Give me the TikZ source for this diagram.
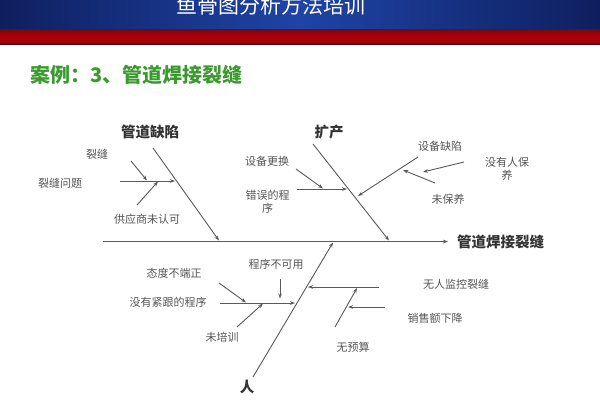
\documentclass[tikz,border=0pt]{standalone}
\usepackage{fontspec}
\setmainfont{Noto Sans CJK SC}
\newfontfamily\cjk{Noto Sans CJK SC}
\usetikzlibrary{arrows.meta}
\definecolor{navyedge}{HTML}{0E1F5E}
\definecolor{navymid}{HTML}{1F44A6}
\definecolor{redband}{HTML}{A50008}
\definecolor{reddark}{HTML}{6E0A18}
\definecolor{subgreen}{HTML}{3A9A2E}
\definecolor{bonegray}{HTML}{5A5A5A}
\definecolor{labgray}{HTML}{555555}
\tikzset{
  bone/.style={draw=bonegray, line width=0.9pt, -{Stealth[length=5pt,width=3.6pt]}},
  lab/.style={font=\cjk\fontsize{11}{13}\selectfont, text=labgray, inner sep=0pt, align=center},
  head/.style={font=\cjk\bfseries\fontsize{14.5}{16}\selectfont, text=black!80, inner sep=0pt}
}
\begin{document}
\begin{tikzpicture}[x=1pt,y=-1pt]
\useasboundingbox (0,0) rectangle (600,400);
\fill[white] (0,0) rectangle (600,400);
% header
\shade[left color=navyedge, right color=navyedge, middle color=navymid] (0,0) rectangle (600,29);
\shade[top color=reddark, bottom color=redband] (0,29) rectangle (600,34);
\fill[redband] (0,34) rectangle (600,43);
\fill[reddark!70!black] (0,43) rectangle (600,44.5);
\node[font=\cjk\fontsize{21}{23}\selectfont, text=white, anchor=base, inner sep=0pt] (title) at (271,13) {鱼骨图分析方法培训};
\node[font=\cjk\bfseries\fontsize{20}{22}\selectfont, text=subgreen, anchor=west, inner sep=0pt] (sub) at (30,75) {案例：3、管道焊接裂缝};
% spine
\coordinate (S0) at (103,241.5);
\coordinate (S1) at (448,241.5);
\draw[bone] (S0) -- (S1);
\node[head, anchor=west] (effect) at (457,241.5) {管道焊接裂缝};
% bone A
\coordinate (A0) at (153,148); \coordinate (A1) at (219,240.5);
\draw[bone] (A0) -- (A1);
\node[head] (hA) at (150,132) {管道缺陷};
\coordinate (Ah0) at (120,181); \coordinate (Ah1) at (175,181);
\draw[bone] (Ah0) -- (Ah1);
\coordinate (Aa0) at (131,161); \coordinate (Aa1) at (147,180.5);
\draw[bone] (Aa0) -- (Aa1);
\coordinate (Ab0) at (137,205); \coordinate (Ab1) at (158,181.5);
\draw[bone] (Ab0) -- (Ab1);
\node[lab] (lA1) at (97,154) {裂缝};
\node[lab] (lA2) at (60,183) {裂缝问题};
\node[lab] (lA3) at (147,219) {供应商未认可};
% bone B
\coordinate (B0) at (313,144); \coordinate (B1) at (389,240.5);
\draw[bone] (B0) -- (B1);
\node[head] (hB) at (329,132) {扩产};
\coordinate (Bh0) at (297,189); \coordinate (Bh1) at (347,189);
\draw[bone] (Bh0) -- (Bh1);
\coordinate (Ba0) at (296,169); \coordinate (Ba1) at (323,188.5);
\draw[bone] (Ba0) -- (Ba1);
\coordinate (Bb0) at (418,157); \coordinate (Bb1) at (358,196);
\draw[bone] (Bb0) -- (Bb1);
\coordinate (Bc0) at (435,183); \coordinate (Bc1) at (403,170);
\draw[bone] (Bc0) -- (Bc1);
\coordinate (Bd0) at (464,162); \coordinate (Bd1) at (423,172);
\draw[bone] (Bd0) -- (Bd1);
\node[lab] (lB1) at (267,161) {设备更换};
\node[lab] (lB2) at (267.5,201.5) {错误的程\\序};
\node[lab] (lB3) at (440,146) {设备缺陷};
\node[lab] (lB4) at (448,199) {未保养};
\node[lab] (lB5) at (507,169) {没有人保\\养};
% bone C
\coordinate (C0) at (253,377); \coordinate (C1) at (333,242.5);
\draw[bone] (C0) -- (C1);
\node[head] (hC) at (247,387) {人};
\coordinate (Ch0) at (220,303); \coordinate (Ch1) at (295,303);
\draw[bone] (Ch0) -- (Ch1);
\coordinate (Ca0) at (219,283); \coordinate (Ca1) at (246,302.5);
\draw[bone] (Ca0) -- (Ca1);
\coordinate (Cb0) at (280,279); \coordinate (Cb1) at (280,298.5);
\draw[bone] (Cb0) -- (Cb1);
\coordinate (Cc0) at (237,327); \coordinate (Cc1) at (263,303.5);
\draw[bone] (Cc0) -- (Cc1);
\node[lab] (lC1) at (168,302) {没有紧跟的程序};
\node[lab] (lC2) at (174,273) {态度不端正};
\node[lab] (lC3) at (276,264) {程序不可用};
\node[lab] (lC4) at (222,337) {未培训};
% bone D
\coordinate (D0) at (379,287); \coordinate (D1) at (308,287);
\draw[bone] (D0) -- (D1);
\coordinate (Da0) at (335,327); \coordinate (Da1) at (357,288);
\draw[bone] (Da0) -- (Da1);
\coordinate (Db0) at (385,307); \coordinate (Db1) at (348,307);
\draw[bone] (Db0) -- (Db1);
\node[lab] (lD1) at (456,284) {无人监控裂缝};
\node[lab] (lD2) at (353,347) {无预算};
\node[lab] (lD3) at (435,318) {销售额下降};
\end{tikzpicture}
\end{document}
